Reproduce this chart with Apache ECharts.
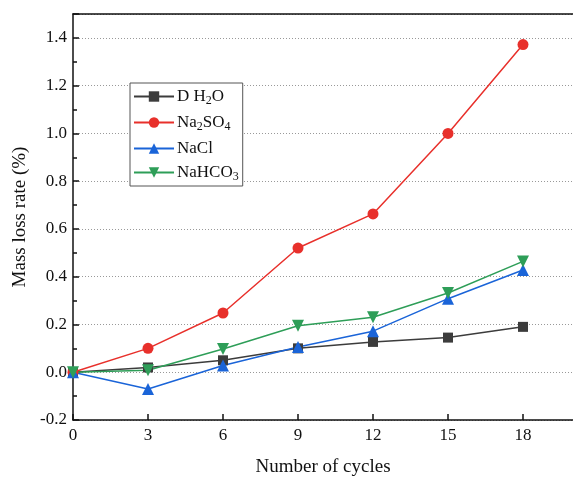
<!DOCTYPE html>
<html>
<head>
<meta charset="utf-8">
<script src="https://cdn.jsdelivr.net/npm/echarts@6/dist/echarts.min.js"></script>
<style>
  html, body { margin: 0; padding: 0; background: #fff; }
</style>
</head>
<body>
<div id="chart" style="width: 573px; height: 482px"></div>
<script>
// 循环次数
const cycles = [0, 3, 6, 9, 12, 15, 18];
const xTicks = [0, 3, 6, 9, 12, 15, 18];
const yTicks = [-0.2, 0.0, 0.2, 0.4, 0.6, 0.8, 1.0, 1.2, 1.4];
// 质量损失率 (%)
const dH2O = [0, 0.02, 0.05, 0.10, 0.127, 0.145, 0.19];
const na2so4 = [0, 0.10, 0.248, 0.52, 0.663, 1.0, 1.372];
const nacl = [0, -0.07, 0.028, 0.106, 0.172, 0.308, 0.428];
const nahco3 = [0, 0.008, 0.097, 0.195, 0.23, 0.332, 0.464];

const names = ['D H2O', 'Na2SO4', 'NaCl', 'NaHCO3'];
const labels = {
  'D H2O': 'D H{sub|2}O',
  'Na2SO4': 'Na{sub|2}SO{sub|4}',
  'NaCl': 'NaCl',
  'NaHCO3': 'NaHCO{sub|3}'
};

const font = '"Liberation Serif", "Times New Roman", serif';

const pairs = (ys) => cycles.map((c, i) => [c, ys[i]]);

const mk = (name, data, color, symbol, size, rotate) => ({
  name: name,
  type: 'line',
  data: pairs(data),
  symbol: symbol,
  symbolSize: size,
  symbolRotate: rotate || 0,
  lineStyle: { color: color, width: 1.5 },
  itemStyle: { color: color },
  z: 3
});

const myChart = echarts.init(document.getElementById('chart'));
const option = {
  animation: false,
  textStyle: { fontFamily: font },
  grid: { left: 73, right: 0, top: 14, bottom: 59 },
  legend: {
    orient: 'vertical',
    left: 130,
    top: 83,
    itemWidth: 40,
    itemHeight: 13,
    itemGap: 7,
    padding: [5, 4, 3, 3],
    borderColor: '#555',
    borderWidth: 1,
    backgroundColor: '#fff',
    data: names,
    formatter: (n) => labels[n],
    textStyle: {
      fontFamily: font,
      fontSize: 17,
      color: '#111',
      padding: [0, 0, 0, -2],
      rich: {
        sub: { fontSize: 12, fontFamily: font, color: '#111', padding: [9, 0, 0, 0] }
      }
    }
  },
  xAxis: [{
    type: 'value',
    min: 0,
    max: 20,
    interval: 3,
    name: 'Number of cycles',
    nameLocation: 'middle',
    nameGap: 38,
    nameTextStyle: { fontFamily: font, fontSize: 19, color: '#111' },
    axisLine: { onZero: false, lineStyle: { color: '#111', width: 1.5 } },
    axisTick: { inside: true, length: 6, lineStyle: { color: '#111', width: 1.5 } },
    axisLabel: {
      fontFamily: font, fontSize: 17, color: '#111', margin: 7,
      showMaxLabel: false,
      formatter: (v) => xTicks.indexOf(v) >= 0 ? String(v) : ''
    },
    splitLine: { show: false }
  }, {
    type: 'value',
    position: 'top',
    min: 0,
    max: 20,
    axisLine: { show: true, onZero: false, lineStyle: { color: '#111', width: 1.5 } },
    axisTick: { show: false },
    axisLabel: { show: false },
    splitLine: { show: false }
  }],
  yAxis: {
    type: 'value',
    min: -0.2,
    max: 1.5,
    interval: 0.2,
    name: 'Mass loss rate (%)',
    nameLocation: 'middle',
    nameGap: 42,
    nameTextStyle: { fontFamily: font, fontSize: 19, color: '#111' },
    axisLine: { show: true, onZero: false, lineStyle: { color: '#111', width: 1.5 } },
    axisTick: { inside: true, length: 6, lineStyle: { color: '#111', width: 1.5 } },
    minorTick: { show: true, splitNumber: 2, length: 4, lineStyle: { color: '#111', width: 1.5 } },
    axisLabel: {
      fontFamily: font, fontSize: 17, color: '#111', margin: 6,
      showMaxLabel: false,
      formatter: (v) => {
        const t = yTicks.find((k) => Math.abs(k - v) < 1e-6);
        return t === undefined ? '' : t.toFixed(1);
      }
    },
    splitLine: { show: true, lineStyle: { color: '#999', type: [1, 2], width: 1 } }
  },
  series: [
    mk('D H2O', dH2O, '#3c3c3c', 'rect', 10),
    mk('Na2SO4', na2so4, '#e8302b', 'circle', 11),
    mk('NaCl', nacl, '#1a64d8', 'triangle', 12),
    mk('NaHCO3', nahco3, '#2e9e58', 'triangle', 12, 180)
  ]
};
myChart.setOption(option);
</script>
</body>
</html>
